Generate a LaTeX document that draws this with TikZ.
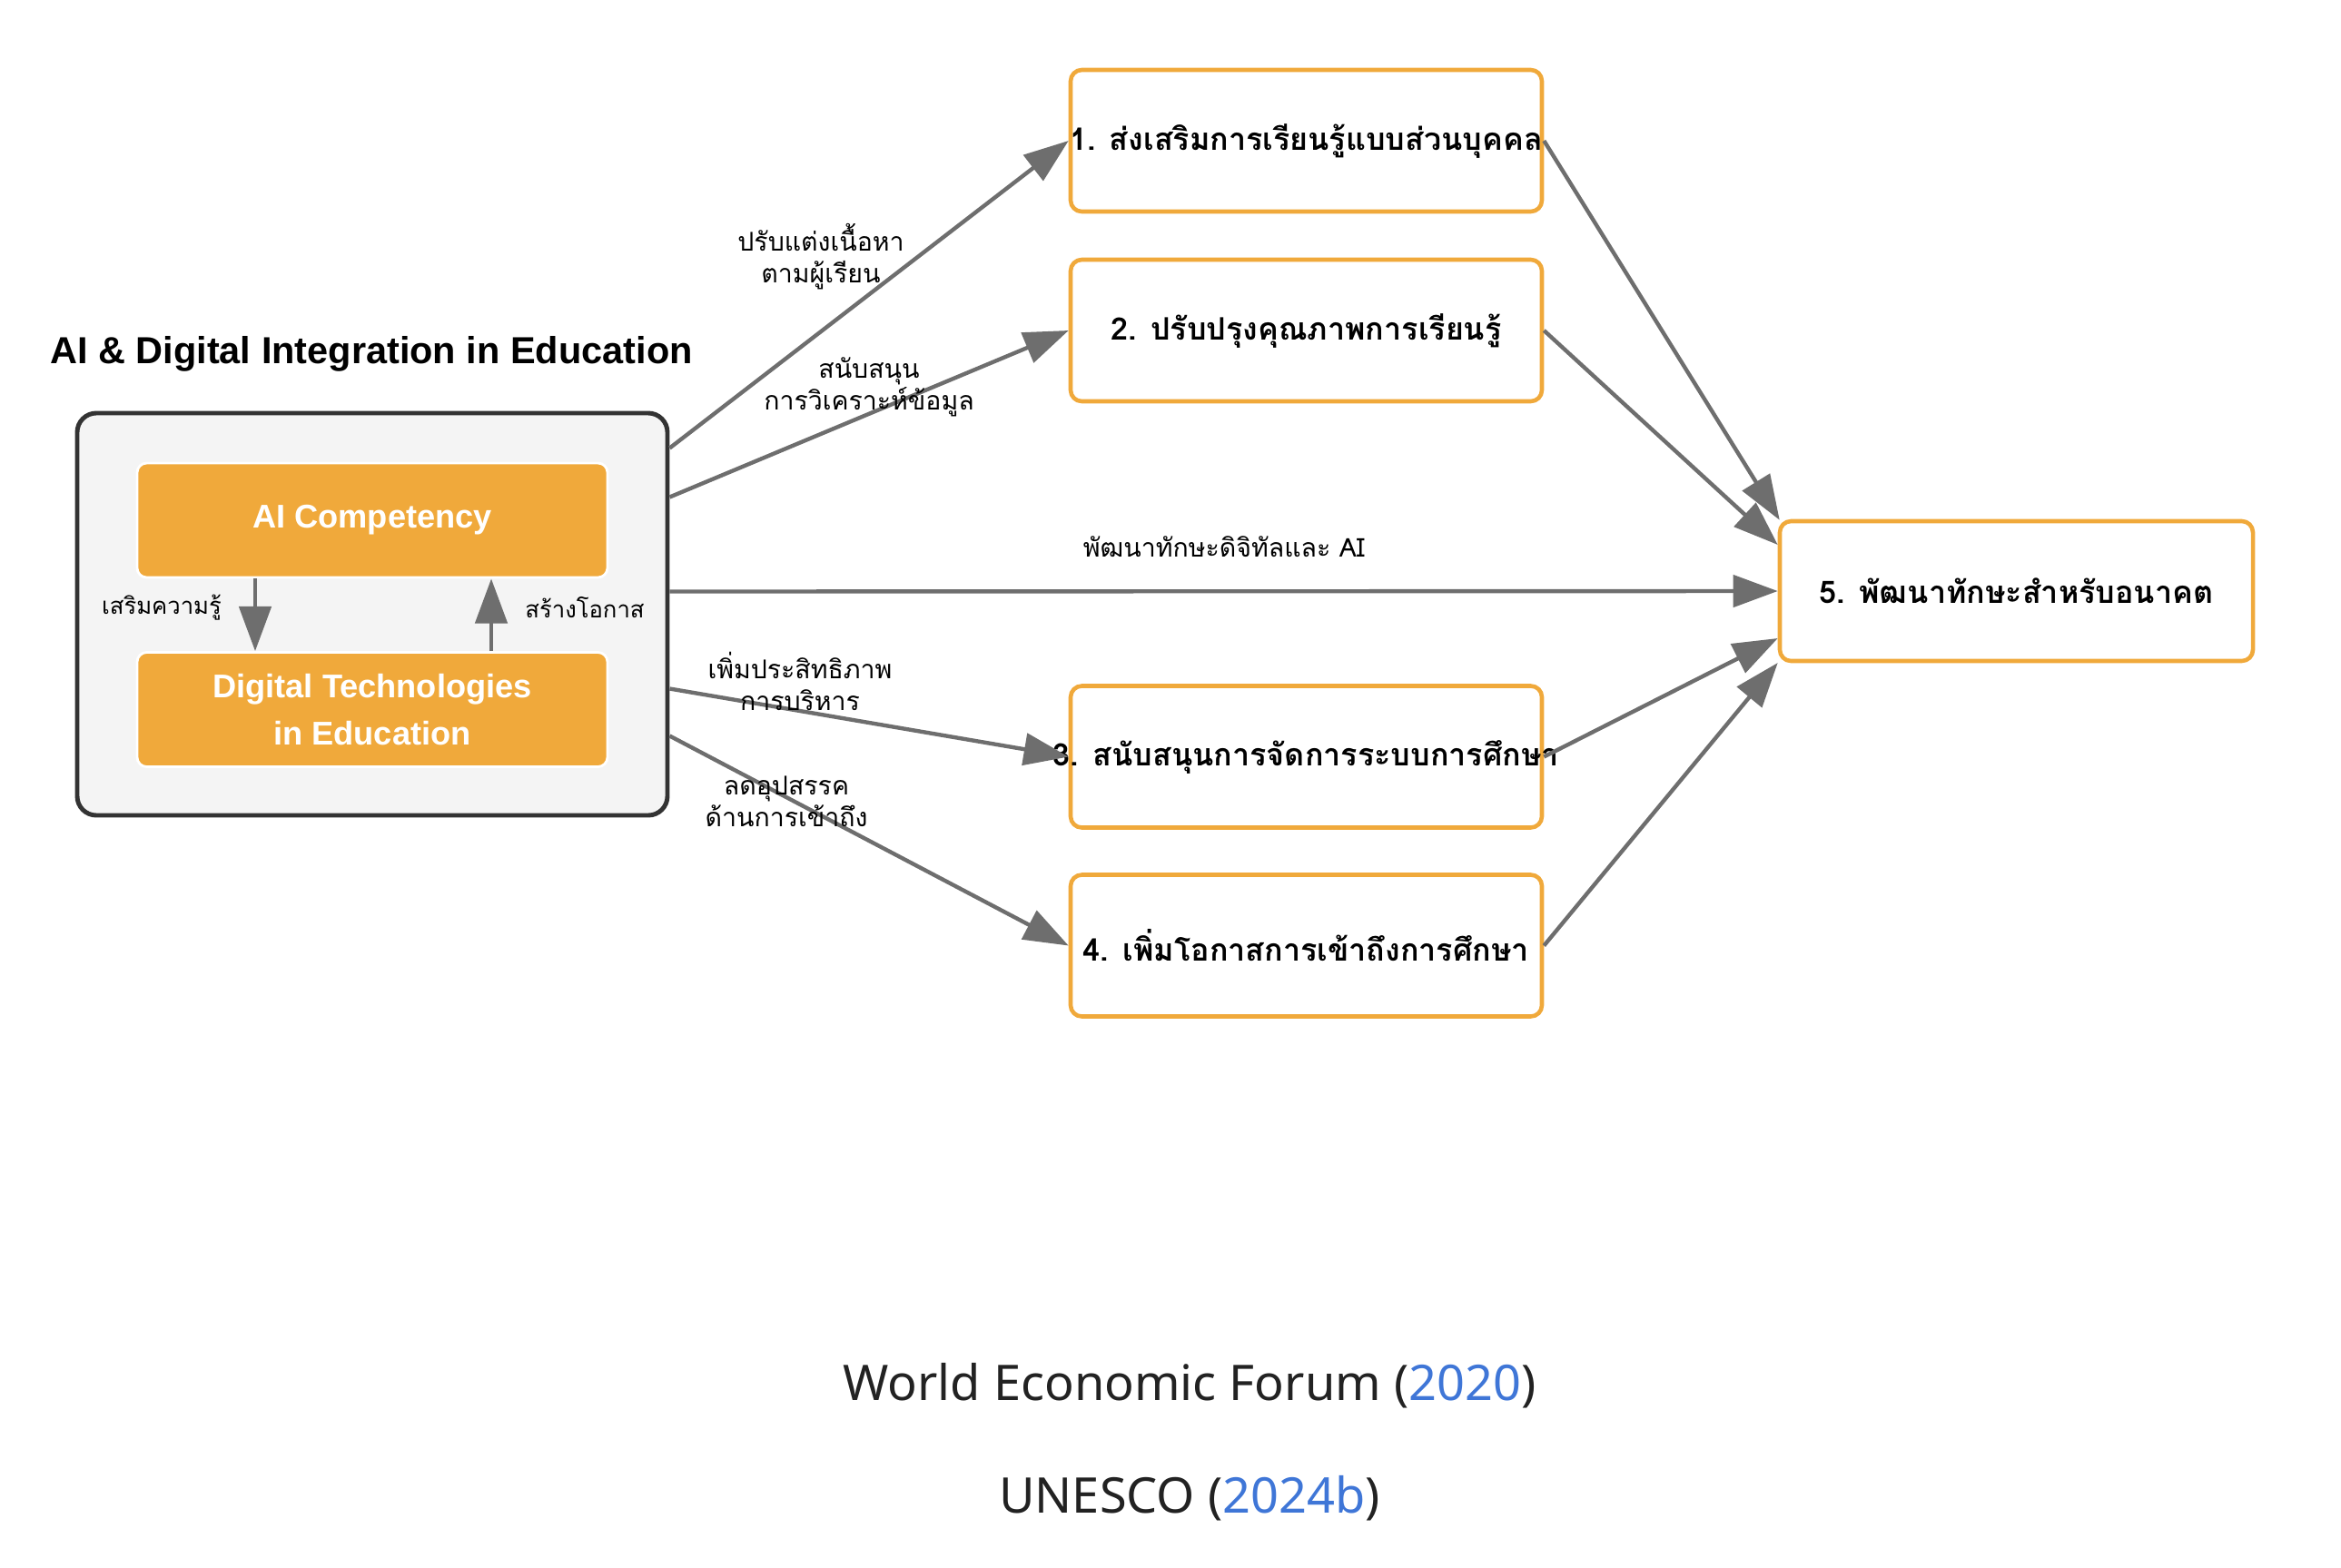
\documentclass[tikz,border=0pt]{standalone}
\usepackage{fontspec}
\setmainfont{Liberation Sans}
\newfontfamily\thaifont[Script=Thai]{Loma}
\newfontfamily\citefont{Noto Sans}
\usetikzlibrary{arrows.meta}
\definecolor{boxorange}{HTML}{F0A93B}
\definecolor{arrowgray}{HTML}{6E6E6E}
\definecolor{panelgray}{HTML}{F4F4F4}
\definecolor{panelline}{HTML}{333333}
\definecolor{citeblue}{HTML}{3F76D7}
\definecolor{citeblack}{HTML}{222222}
\newcommand{\goaltext}[1]{\makebox[0pt]{#1}}
\tikzset{
  flow/.style={draw=arrowgray, line width=1.25pt, -{Triangle[length=14pt,width=10pt]}},
  goalbox/.style={draw=boxorange, line width=1.3pt, fill=white, rounded corners=3.5pt,
    minimum width=5.19cm, minimum height=1.56cm, inner sep=0pt,
    font=\thaifont\bfseries\fontsize{9.7}{12}\selectfont},
  corebox/.style={draw=white, line width=0.8pt, fill=boxorange, rounded corners=3pt,
    minimum width=5.18cm, minimum height=1.26cm, text=white, align=center,
    font=\bfseries\fontsize{10.3}{15}\selectfont},
  edgelabel/.style={font=\thaifont\fontsize{8.1}{10}\selectfont, align=center},
  innerlabel/.style={font=\thaifont\fontsize{7.3}{10}\selectfont},
}
\begin{document}
\begin{tikzpicture}
  \useasboundingbox (0,0) rectangle (25.78,-17.26);
  % left panel
  \node (title) at (4.09,-3.90) {\bfseries\fontsize{11.8}{14}\selectfont AI \& Digital Integration in Education};
  \node (panel) at (4.10,-6.765) [draw=panelline, line width=1.4pt, fill=panelgray, rounded corners=6pt,
    minimum width=6.5cm, minimum height=4.43cm] {};
  \node (ai) at (4.10,-5.73) [corebox] {AI Competency};
  \node (dt) at (4.10,-7.815) [corebox] {Digital Technologies\\in Education};
  \draw[flow] ([xshift=-1.29cm]ai.south) -- ([xshift=-1.29cm]dt.north);
  \draw[flow] ([xshift=1.31cm]dt.north) -- ([xshift=1.31cm]ai.south);
  \node (lknow) at (1.78,-6.69) [innerlabel] {เสริมความรู้};
  \node (lopp) at (6.44,-6.69) [innerlabel] {สร้างโอกาส};
  % outcome boxes
  \node (g1) at (14.385,-1.55) [goalbox] {\goaltext{1. ส่งเสริมการเรียนรู้แบบส่วนบุคคล}};
  \node (g2) at (14.385,-3.64) [goalbox] {\goaltext{2. ปรับปรุงคุณภาพการเรียนรู้}};
  \node (g3) at (14.385,-8.335) [goalbox] {\goaltext{3. สนับสนุนการจัดการระบบการศึกษา}};
  \node (g4) at (14.385,-10.415) [goalbox] {\goaltext{4. เพิ่มโอกาสการเข้าถึงการศึกษา}};
  \node (g5) at (22.205,-6.51) [goalbox, minimum width=5.21cm, minimum height=1.54cm] {\goaltext{5. พัฒนาทักษะสำหรับอนาคต}};
  % connectors
  \draw[flow] ([yshift=1.83cm]panel.east) -- (g1.west);
  \draw[flow] ([yshift=1.29cm]panel.east) -- (g2.west);
  \draw[flow] ([yshift=0.25cm]panel.east) -- (g5.west);
  \draw[flow] ([yshift=-0.82cm]panel.east) -- (g3.west);
  \draw[flow] ([yshift=-1.34cm]panel.east) -- (g4.west);
  \draw[flow] (g1.east) -- ([xshift=0.02cm,yshift=-0.01cm]g5.north west);
  \draw[flow] (g2.east) -- ([yshift=0.51cm]g5.west);
  \draw[flow] (g3.east) -- ([yshift=-0.52cm]g5.west);
  \draw[flow] (g4.east) -- ([yshift=-0.79cm]g5.west);
  \node (l1) at (9.04,-2.83) [edgelabel] {ปรับแต่งเนื้อหา\\ตามผู้เรียน};
  \node (l2) at (9.57,-4.26) [edgelabel] {สนับสนุน\\การวิเคราะห์ข้อมูล};
  \node (l5) at (13.48,-6.02) [edgelabel] {พัฒนาทักษะดิจิทัลและ AI};
  \node (l3) at (8.81,-7.50) [edgelabel] {เพิ่มประสิทธิภาพ\\การบริหาร};
  \node (l4) at (8.66,-8.83) [edgelabel] {ลดอุปสรรค\\ด้านการเข้าถึง};
  % sources
  \node (src1) at (13.10,-15.26) [text=citeblack, font=\citefont\fontsize{15.4}{19}\selectfont]
    {World Economic Forum (\textcolor{citeblue}{2020})};
  \node (src2) at (13.10,-16.50) [text=citeblack, font=\citefont\fontsize{15.4}{19}\selectfont]
    {UNESCO (\textcolor{citeblue}{2024b})};
\end{tikzpicture}
\end{document}
